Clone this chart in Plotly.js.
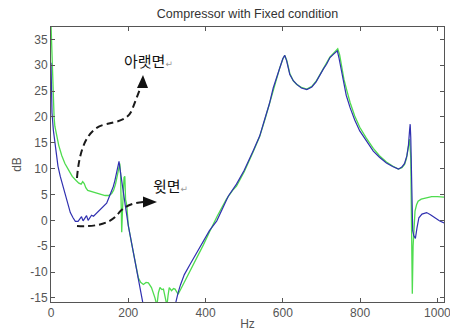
<!DOCTYPE html>
<html>
<head>
<meta charset="utf-8">
<script src="https://cdn.plot.ly/plotly-3.0.1.min.js"></script>
<style>html,body{margin:0;padding:0;background:#fff;}#chart{width:450px;height:331px;}</style>
</head>
<body>
<div id="chart"></div>
<script>
// ---- data ----
var blueHz = [0,1,2.6,6,9.6,14,18,24,31,37,44,50,57,63,70,75,79,83,88,92,96,100,105,110,117,126,135,144,150,156,161,165,169,173,176,179,183,188,193,200,210,220,230,239,
  321,325,329,335,345,360,377,394,410,429,445,459,480,500,523,540,554,565,575,585,592,600,605,610,618,627,636,648,662,675,686,696,705,713,722,732,741,745,750,756,764,774,786,799,816,834,850,868,884,899,908,915,921,925,928,929.5,931,933,936,939,943,947,952,960,972,982,993,1005,1017];
var blueDb = [30.5,22.5,20.8,17.5,15,12.5,10.5,8.5,6.6,4.7,2.8,1.5,0.5,-0.2,-0.2,0.3,0.7,-0.1,0.4,0.9,0,0.4,1.0,0.8,1.3,2.0,2.7,3.3,4.4,5.5,6.5,7.6,9.2,10.8,11.4,9.7,7.5,4.5,2.5,-1,-5,-9,-13,-16.5,
  -16.5,-15,-14,-12.5,-10.5,-8.5,-6.3,-4,-2,-0.1,2.4,4.7,7,9.7,13.4,16.3,19.8,22.5,25.6,28,29.5,31.3,31.9,30.8,28.2,27,26.3,25.6,25.3,25.8,26.8,28.2,29.3,30.2,31.5,32.2,32.8,31.5,29.5,26.9,24.2,21.8,19.4,17.3,15.3,13.4,12.2,11.1,10.4,9.9,10.3,11,12.5,14.5,17.5,18.6,16,5,-2,-3,-3.5,-1.5,0.5,1.2,1.5,1.1,0.5,-0.1,-0.5];

var greenHz = [0,2,3.4,6,8,10,15,20,28,36,45,55,65,72,78,82,86,90,95,105,115,125,140,150,157,162,167,172,176,178,180,181.5,183,185,187,189,191,193,196,200,210,220,226,232,239,246,252,260,265,269,274,278,282,287,291,295,300,303,306,312,317,321,329,338,347,360,377,394,411,430,454,470,480,500,523,540,554,565,575,585,592,600,605,610,618,627,636,648,662,675,686,696,705,713,722,732,742,747,752,758,766,774,786,799,816,834,850,868,884,899,908,915,920,924,928,931,932.5,934,935,937,939,942,946,950,958,972,985,1000,1017];
var greenDb = [38,33,29.8,24,20,18.2,16,14.5,12.5,11,9.8,8.5,7.7,7.2,7.0,7.5,7.1,6.3,5.8,5.6,5.4,5.2,4.8,4.8,5.2,5.8,7,8.8,10.5,11,9,4,-2.3,2,6,8.3,8.5,4,3,-1,-5,-9,-11.1,-12,-12.4,-12,-12.1,-13,-14,-15,-16.5,-14,-13,-13.4,-13.3,-15,-16.5,-14.5,-13,-13.6,-13.2,-13.3,-14.3,-13,-11.7,-9.8,-7.2,-4.8,-2.1,0.8,4.1,5.8,6.6,9.4,13.2,16.2,19.6,22.4,25.4,28,29.5,31.2,31.9,31,28.4,27,26.3,25.7,25.4,25.9,26.9,28.2,29.4,30.4,31.6,32.4,33.2,32,29.5,27.3,25,22.8,20.2,18,15.9,13.9,12.5,11.3,10.5,9.9,10.2,10.8,12,14,15.7,12,-2,-10,-14.2,-5,-3,1.8,3,3.7,4.1,4.4,4.6,4.6,4.5];

var xTicks = [0,200,400,600,800,1000];
var yTicks = [-15,-10,-5,0,5,10,15,20,25,30,35];
var titleText = 'Compressor with Fixed condition';
var xLabel = 'Hz', yLabel = 'dB';
var noteLower = '아랫면', noteUpper = '윗면';

// ---- decoration helpers (pixel -> axis coords for arrows / notes) ----
var XR = [0,1017], YR = [-15.8,37.4];
function X(px){ return XR[0] + (px-51)/393*(XR[1]-XR[0]); }
function Y(py){ return YR[1] - (py-27)/275*(YR[1]-YR[0]); }
function path(segs, close){
  var s = '';
  segs.forEach(function(seg){
    s += seg[0] + ' ';
    var pts = seg.slice(1);
    for (var i=0;i<pts.length;i+=2){ s += X(pts[i]).toFixed(2)+','+Y(pts[i+1]).toFixed(2)+' '; }
  });
  return s + (close ? 'Z' : '');
}

var traces = [
  {x: greenHz, y: greenDb, mode:'lines', line:{color:'#4fdc4f', width:1.3}, hoverinfo:'skip'},
  {x: blueHz, y: blueDb, mode:'lines', line:{color:'#3030b0', width:1.2}, hoverinfo:'skip'}
];

var arrowLine = {color:'#1a1a1a', width:2, dash:'7px,4px'};
var shapes = [
  {type:'path', xref:'x', yref:'y', line:arrowLine,
   path: path([['M',77,178],['C',79,152,86,130,103,125],['C',118,121,127,121,132,110],['L',140,89]])},
  {type:'path', xref:'x', yref:'y', line:{width:0}, fillcolor:'#111',
   path: path([['M',143,75],['L',137,88],['L',148,88]], true)},
  {type:'path', xref:'x', yref:'y', line:arrowLine,
   path: path([['M',77,226],['C',95,227,110,224,118,214],['C',124,206,132,203,144,202]])},
  {type:'path', xref:'x', yref:'y', line:{width:0}, fillcolor:'#111',
   path: path([['M',157,202],['L',143,196.5],['L',143,207.5]], true)}
];

var ret = '<span style="font-size:9px;color:#999">↵</span>';
var annotations = [
  {x: X(122), y: Y(60), xref:'x', yref:'y', xanchor:'left', yanchor:'middle', showarrow:false,
   text: noteLower + ret, font:{family:'Noto Sans CJK KR, DejaVu Sans', size:15, color:'#111'}},
  {x: X(151), y: Y(185), xref:'x', yref:'y', xanchor:'left', yanchor:'middle', showarrow:false,
   text: noteUpper + ret, font:{family:'Noto Sans CJK KR, DejaVu Sans', size:15, color:'#111'}}
];

var axisCommon = {
  showgrid:false, zeroline:false, showline:true, linecolor:'#555', linewidth:1,
  mirror:'ticks', ticks:'inside', ticklen:4, tickcolor:'#555', ticklabeloverflow:'allow',
  tickfont:{family:'Liberation Sans, Arial', size:12, color:'#555'}
};

var layout = {
  width:450, height:331,
  margin:{l:51, r:6, t:27, b:29, pad:0},
  paper_bgcolor:'#fff', plot_bgcolor:'#fff',
  showlegend:false,
  font:{family:'Liberation Sans, Arial'},
  title:{text:titleText, x:0.5, xref:'paper', xanchor:'center', y:1-14/331, yref:'container', yanchor:'middle',
         font:{family:'Liberation Sans, Arial', size:12.5, color:'#333'}},
  xaxis: Object.assign({}, axisCommon, {range:XR, tickvals:xTicks, ticktext:xTicks.map(String),
         title:{text:xLabel, standoff:3, font:{family:'Liberation Sans, Arial', size:12, color:'#555'}}}),
  yaxis: Object.assign({}, axisCommon, {range:YR, tickvals:yTicks, ticktext:yTicks.map(String),
         title:{text:yLabel, standoff:6, font:{family:'Liberation Sans, Arial', size:12, color:'#555'}}}),
  shapes: shapes,
  annotations: annotations
};

Plotly.newPlot('chart', traces, layout, {staticPlot:true, displayModeBar:false});
</script>
</body>
</html>
